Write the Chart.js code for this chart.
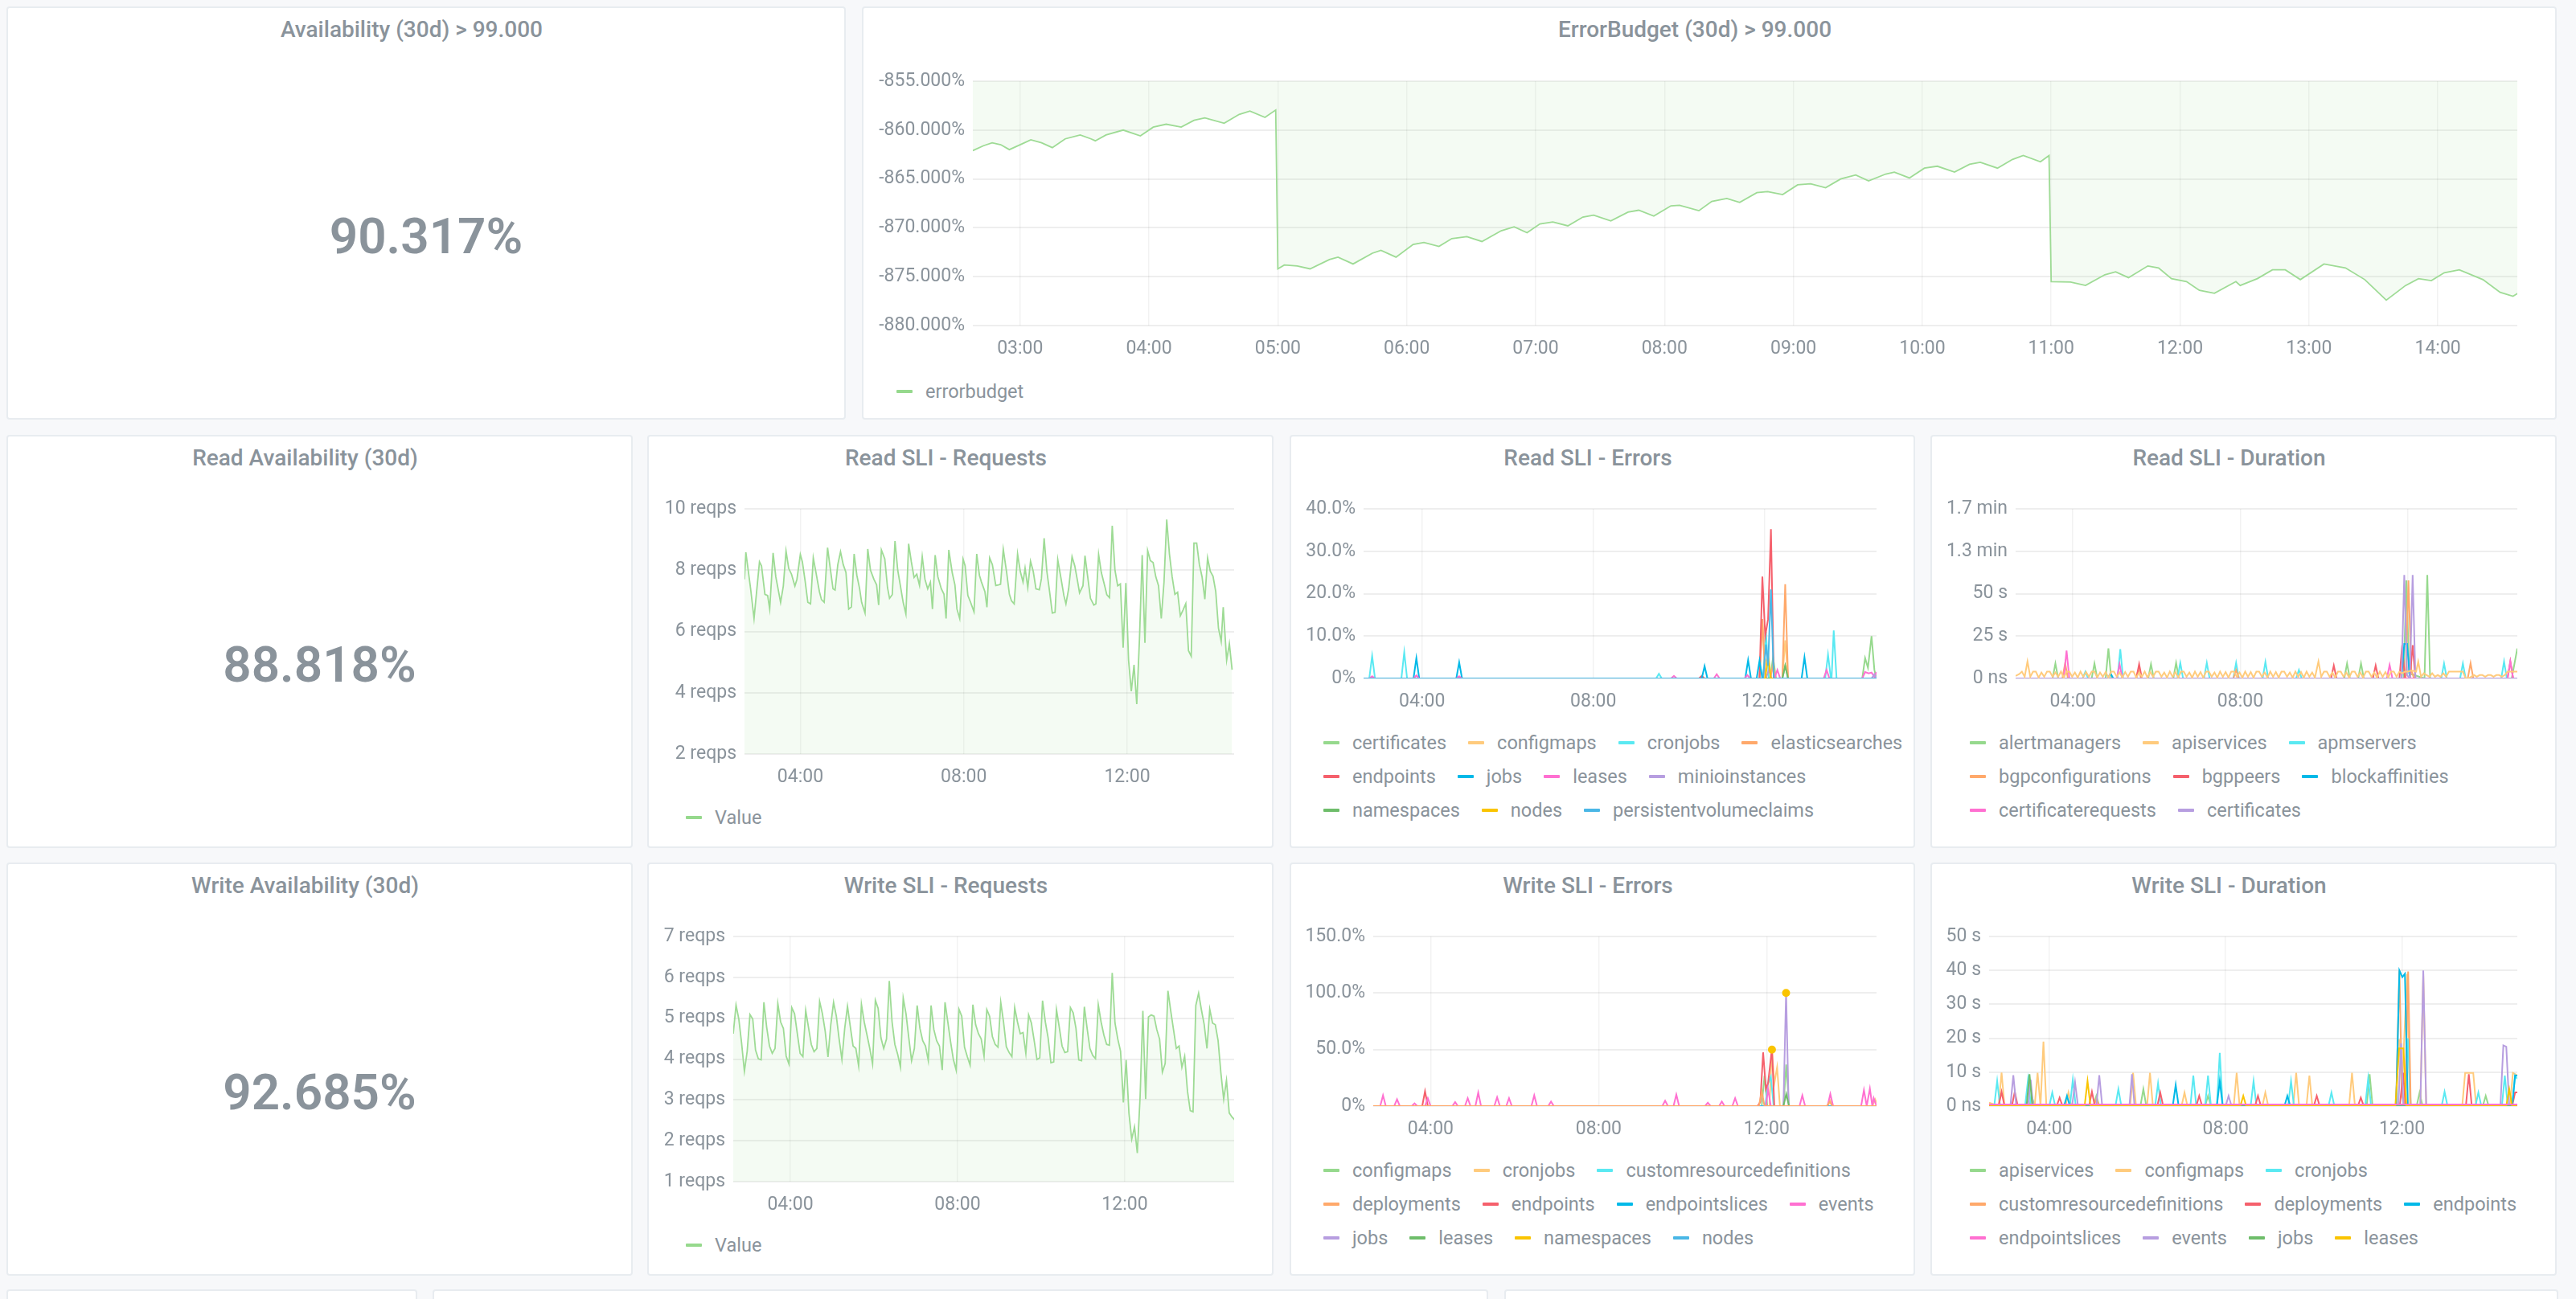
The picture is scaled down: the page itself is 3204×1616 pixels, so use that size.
<!DOCTYPE html>
<html>
<head>
<meta charset="utf-8">
<script src="https://cdn.jsdelivr.net/npm/chart.js@4.4.1/dist/chart.umd.min.js"></script>
<style>
  html, body { margin: 0; padding: 0; }
  body { width: 3204px; height: 1616px; background: #f7f8fa; position: relative; overflow: hidden; font-family: Roboto, "Noto Sans", sans-serif; }
  .panel { position: absolute; background: #fff; border: 2px solid #e8ecf0; border-radius: 4px; box-sizing: border-box; }
  .title { position: absolute; left: 0; right: 36px; top: 10px; height: 34px; line-height: 34px; text-align: center; font-size: 28px; font-weight: 500; color: #8a939b; white-space: nowrap; }
  .stat { position: absolute; left: 0; right: 0; top: 253px; text-align: center; font-size: 62px; line-height: 62px; font-weight: 600; color: #8a939b; }
  canvas { position: absolute; }
  .legend { position: absolute; display: flex; flex-wrap: wrap; column-gap: 27px; font-size: 23.5px; line-height: 42px; color: #8a939b; }
  .legend .item { display: flex; align-items: center; white-space: nowrap; }
  .legend .mark { width: 20px; height: 4px; margin-right: 16px; border-radius: 1px; }
</style>
</head>
<body>
<script>
// ---- data (times are minutes after midnight) ----
const palette = ['#96d98d', '#ffcb7d', '#5ae9f2', '#ffa96b', '#f5606c', '#00b9e8', '#ff70d1', '#b79ee0', '#6ebd6a', '#fac400', '#4ab7e6'];

const statValues = ['90.317%', '88.818%', '92.685%'];

const budgetTickLabels = ['03:00', '04:00', '05:00', '06:00', '07:00', '08:00', '09:00', '10:00', '11:00', '12:00', '13:00', '14:00'];
const smallTickLabels = ['04:00', '08:00', '12:00'];

const budgetPoints = [
  [158,-862.1],[163,-861.6],[167,-861.3],[171,-861.5],[175,-862.0],[181,-861.4],[185,-861.0],[190,-861.3],[195,-861.8],
  [201,-860.9],[208,-860.5],[213,-860.9],[215,-861.1],[220,-860.5],[228,-860.0],[236,-860.6],[242,-859.7],[248,-859.4],
  [255,-859.7],[261,-859.0],[266,-858.75],[275,-859.3],[282,-858.4],[287,-858.05],[294,-858.7],[299,-857.95],
  [300,-874.2],[303,-873.8],[309,-873.9],[315,-874.2],[324,-873.25],[328,-873.0],[335,-873.7],[344,-872.6],[348,-872.3],
  [355,-873.0],[363,-871.7],[368,-871.5],[375,-871.9],[381,-871.1],[388,-870.9],[395,-871.4],[404,-870.3],[410,-869.9],
  [416,-870.5],[422,-869.6],[428,-869.4],[435,-869.8],[442,-868.9],[447,-868.7],[455,-869.3],[463,-868.4],[468,-868.2],
  [475,-868.8],[483,-867.75],[487,-867.7],[496,-868.25],[502,-867.3],[509,-867.0],[515,-867.4],[523,-866.4],[528,-866.3],
  [535,-866.6],[542,-865.6],[548,-865.5],[555,-865.9],[562,-865.0],[569,-864.6],[575,-865.2],[583,-864.5],[587,-864.3],
  [594,-864.9],[601,-863.9],[607,-863.7],[615,-864.3],[622,-863.5],[627,-863.3],[635,-863.9],[642,-863.0],[647,-862.6],
  [655,-863.25],[659,-862.6],[660,-875.5],[669,-875.55],[676,-875.9],[685,-874.8],[690,-874.5],[696,-875.1],[705,-873.9],
  [710,-874.1],[716,-875.2],[723,-875.5],[729,-876.4],[736,-876.7],[746,-875.5],[748,-875.9],[756,-875.2],[763,-874.3],
  [769,-874.3],[776,-875.3],[787,-873.7],[797,-874.1],[806,-875.3],[816,-877.4],[825,-875.9],[831,-875.2],[837,-875.4],
  [843,-874.6],[850,-874.3],[861,-875.3],[869,-876.6],[875,-877.0],[878,-876.6]
];

const readReqTimes = [158,160,167,172,180,183,188,192,195,200,204,211,215,219,223,227,232,235,240,243,247,251,255,259,263,268,271,275,280,284,288,291,295,299,303,307,311,315,319,323,327,330,335,339,343,348,352,355,359,364,368,371,375,379,383,387,391,395,399,403,407,411,415,419,423,427,431,434,438,442,447,451,454,458,463,467,470,474,479,482,486,490,495,499,503,506,511,514,518,522,527,531,534,538,543,547,550,554,559,563,567,570,574,578,582,586,591,594,598,602,606,610,614,618,623,627,630,634,639,643,647,650,655,658,662,666,671,674,678,682,687,690,694,698,702,706,710,714,718,722,726,730,734,738,742,746,750,754,758,762,766,770,774,778,782,786,790,794,798,802,806,810,814,818,822,826,830,834,838,842,846,850,854,858,861,866,870,874];
const readReqValues = [7.70,8.58,7.39,6.42,8.27,8.14,7.21,7.17,6.73,8.56,7.78,6.95,7.48,8.62,8.05,7.87,7.48,7.70,8.51,8.27,7.65,6.95,6.90,8.40,7.92,7.30,7.04,6.95,8.73,8.05,7.39,7.35,8.18,8.60,8.18,7.92,6.73,6.80,8.53,7.83,7.40,6.95,6.60,8.69,8.00,7.70,7.52,6.86,8.66,8.37,7.43,7.08,7.20,8.95,8.00,7.48,6.95,6.57,8.86,8.27,7.76,7.87,7.50,8.44,7.70,7.39,7.61,6.73,8.49,7.78,7.39,7.21,6.42,8.66,7.92,7.52,6.73,6.42,8.36,8.14,7.17,6.95,6.64,8.53,7.83,7.61,7.30,6.79,8.40,8.18,7.50,7.52,7.54,8.68,7.92,7.21,7.00,6.90,8.53,7.96,7.61,8.07,7.43,8.29,7.96,7.39,7.36,7.72,9.04,7.96,7.30,6.60,6.62,8.34,7.70,7.17,6.90,7.39,8.44,8.14,7.65,7.26,7.49,8.47,7.78,7.08,6.86,6.90,8.51,7.92,7.48,7.20,7.10,9.45,8.00,7.49,7.55,5.47,7.58,5.06,4.05,4.91,3.63,5.76,8.49,5.63,8.64,8.31,8.25,7.78,7.49,6.42,7.60,9.65,8.53,7.78,7.21,7.28,6.51,6.70,6.91,5.37,5.19,8.88,8.88,8.18,7.77,7.05,8.40,7.96,7.80,7.30,6.11,5.67,6.79,5.06,5.60,4.75];

// write requests: one sample every 4 minutes from 02:38
const writeReqStart = 158;
const writeReqStep = 4;
const writeReqValues = [4.62,5.32,4.98,4.39,3.70,4.19,5.09,4.98,4.22,4.01,3.98,5.39,4.78,4.32,4.14,4.26,5.36,4.91,4.75,4.07,3.88,5.26,5.11,4.62,4.14,4.06,5.19,4.78,4.36,4.18,4.26,5.41,5.11,4.68,4.05,4.84,5.39,5.05,4.49,3.99,4.75,5.29,4.80,4.32,4.26,3.83,5.34,4.91,4.59,4.26,3.88,5.44,5.24,4.52,4.26,4.49,5.91,4.91,4.36,4.12,3.80,5.49,5.11,4.52,3.96,4.26,5.31,4.75,4.45,4.32,3.96,5.31,4.72,4.45,4.32,3.73,5.39,4.91,4.42,3.99,3.73,5.22,5.05,4.29,4.06,3.85,5.33,4.84,4.62,4.49,4.07,5.21,5.05,4.55,4.36,4.29,5.39,4.91,4.30,4.16,4.06,5.26,4.91,4.62,4.65,4.14,5.08,4.88,4.45,3.99,4.03,5.43,4.91,4.52,3.91,3.93,5.21,4.78,4.32,4.16,4.18,5.26,5.13,4.75,3.98,3.96,5.28,4.75,4.26,4.09,4.01,5.33,4.91,4.59,4.36,4.34,6.11,4.88,4.49,4.19,2.94,3.98,2.68,2.04,2.34,1.70,3.07,5.18,3.02,5.03,5.08,5.05,4.72,4.49,3.68,3.89,5.67,5.18,4.72,4.26,4.32,3.80,4.07,3.22,2.74,2.71,5.31,5.61,5.21,4.85,4.26,5.22,4.88,4.84,4.45,3.66,3.02,3.48,2.68,2.58,2.51];

const readErrorNames = ['certificates', 'configmaps', 'cronjobs', 'elasticsearches', 'endpoints', 'jobs', 'leases', 'minioinstances', 'namespaces', 'nodes', 'persistentvolumeclaims'];
const readErrorPoints = [
  [[158,0],[728,0],[732,5],[736,0],[745,0],[749,3],[753,0],[857,0],[861,4.8],[865,2.5],[870,10],[874,2],[877,0]],
  [[158,0],[713,0],[717,13],[721,3],[725,6],[729,0],[745,0],[749,9],[753,0],[877,0]],
  [[158,0],[166,0],[170,5.3],[174,0],[211,0],[215,6.2],[219,0],[568,0],[572,1.1],[576,0],[718,0],[722,11],[726,0],[805,0],[809,5.6],[813,0],[814,0],[817,11.3],[821,0],[877,0]],
  [[158,0],[713,0],[717,14],[721,0],[728,0],[732,3],[736,0],[745,0],[749,22.2],[753,0],[877,0]],
  [[158,0],[628,0],[632,0.6],[636,0],[713,0],[717,24],[721,10],[725,14],[729,35.2],[733,0],[877,0]],
  [[158,0],[228,0],[232,4.8],[236,0],[288,0],[292,3.8],[296,0],[632,0],[636,2.9],[640,0],[693,0],[697,4.3],[701,0],[709,0],[713,4.2],[717,0],[772,0],[776,5],[780,0],[877,0]],
  [[158,0],[166,0],[170,0.5],[174,0],[228,0],[232,0.7],[236,0],[288,0],[292,0.5],[296,0],[589,0],[593,0.6],[597,0],[649,0],[653,1.0],[657,0],[692,0],[696,0.8],[700,0],[734,0],[738,2],[742,0],[803,0],[807,2],[811,0],[857,0],[861,1.5],[866,1.2],[870,1.4],[874,0.4],[877,1.5]],
  [[158,0],[722,0],[726,2],[730,0],[870,0],[874,1],[877,0]],
  [[158,0],[745,0],[749,3],[753,0],[877,0]],
  [[158,0],[721,0],[725,5],[729,0],[877,0]],
  [[158,0],[718,0],[722,8],[725,3],[729,21],[733,0],[877,0]]
];

const readDurationNames = ['alertmanagers', 'apiservices', 'apmservers', 'bgpconfigurations', 'bgppeers', 'blockaffinities', 'certificaterequests', 'certificates'];
const readDurationPoints = [
  [[158,0],[211,0],[215,8.8],[219,0],[267,0],[271,8.8],[275,0],[287,0],[291,17.7],[295,0],[348,0],[352,8.4],[356,0],[384,0],[388,9.2],[392,0],[629,0],[633,8.8],[637,0],[649,0],[653,8.8],[657,0],[714,0],[718,57.8],[722,3],[744,0],[748,61],[752,0],[869,0],[877,17.7]],
  [[158,1.5],[163,2.5],[167,4],[171,1],[175,10],[179,1],[183,4],[187,4],[191,0.5],[195,3.5],[199,1],[203,4],[207,4],[211,1],[215,3.5],[219,1],[223,4],[227,0.5],[231,4],[235,4],[239,1],[243,3.5],[247,0.5],[251,4],[255,1],[259,3.8],[263,1],[267,4],[271,4],[275,0.5],[279,3.5],[283,1],[287,3.8],[291,0.5],[295,4],[299,4],[303,1],[307,3.5],[311,0.5],[315,3.8],[319,1],[323,4],[327,4],[331,0.5],[335,3.5],[339,1],[343,4],[347,0.5],[351,3.8],[355,1],[359,4],[363,4],[367,1],[371,3.5],[375,0.5],[379,4],[383,1],[387,3.8],[391,0.5],[395,4],[399,4],[403,1],[407,3.5],[411,0.5],[415,4],[419,1],[423,3.8],[427,0.5],[431,4],[435,4],[439,1],[443,3.5],[447,0.5],[451,4],[455,1],[459,3.8],[463,0.5],[467,4],[471,4],[475,1],[479,3.5],[483,0.5],[487,4],[491,1],[495,3.8],[499,0.5],[503,4],[507,4],[511,1],[515,3.5],[519,0.5],[523,4],[527,1],[531,3.8],[535,0.5],[539,4],[543,4],[547,1],[551,3.5],[555,0.5],[559,4],[563,1],[567,3.8],[571,0.5],[575,4],[579,1],[583,3.5],[587,0.5],[592,10],[596,1],[600,4],[604,4],[608,1],[612,3.5],[616,0.5],[620,4],[624,4],[628,1],[632,3.5],[636,0.5],[640,4],[644,4],[648,1],[652,3.5],[656,0.5],[660,4],[664,4],[668,1],[672,3.5],[676,0.5],[680,4],[684,1],[688,3.8],[692,0.5],[696,4],[700,4],[704,1],[708,4],[712,3],[716,4],[720,4],[724,4.5],[728,4.5],[732,4],[735,10],[739,1],[743,3],[747,2],[751,1],[755,3],[759,1],[763,2],[767,1],[771,3],[775,1],[779,4],[783,4],[787,4],[791,4],[795,4],[799,4],[803,0],[807,0],[811,1],[815,2],[819,1],[823,2],[827,2],[831,1],[835,2],[839,2],[843,1],[847,2],[851,2],[855,1],[859,2],[863,4],[867,4],[871,4],[877,4]],
  [[158,0],[254,0],[258,4],[262,0],[304,0],[308,17.2],[312,0],[390,0],[394,9.2],[398,0],[428,0],[432,9.2],[436,0],[470,0],[474,9.2],[478,0],[512,0],[516,9.7],[520,0],[560,0],[564,5],[568,0],[768,0],[772,8.8],[776,0],[795,0],[799,8.8],[803,0],[854,0],[858,10],[862,0],[877,0]],
  [[158,0],[225,0],[229,9],[233,0],[330,0],[334,5],[338,0],[470,0],[474,5],[478,0],[717,0],[721,57.8],[725,5],[729,0],[806,0],[810,9],[814,0],[877,0]],
  [[158,0],[331,0],[335,8.4],[339,0],[610,0],[614,7.6],[618,0],[670,0],[674,7.6],[678,0],[708,0],[712,19.6],[716,0],[723,0],[727,19.6],[731,0],[863,0],[867,10],[871,0],[877,0]],
  [[158,0],[290,0],[294,3],[298,0],[711,0],[715,20.4],[719,20.4],[723,0],[877,0]],
  [[158,0],[227,0],[231,16.4],[235,0],[303,0],[307,8.4],[311,0],[690,0],[694,8],[698,0],[863,0],[867,10],[871,0],[877,0]],
  [[158,0],[711,0],[715,61],[719,2],[723,0],[727,61],[731,0],[877,0]]
];

const writeErrorNames = ['configmaps', 'cronjobs', 'customresourcedefinitions', 'deployments', 'endpoints', 'endpointslices', 'events', 'jobs', 'leases', 'namespaces', 'nodes'];
const writeErrorPoints = [
  [[158,0],[713,0],[717,27],[721,0],[744,0],[748,36.8],[752,0],[877,0]],
  [[158,0],[724,0],[727.6,50],[731,20],[735,34.4],[739,0],[807,0],[811,5],[815,0],[871,0],[875,6],[877,3]],
  [[158,0],[718,0],[722,20],[726,26],[730,0],[877,0]],
  [[158,0],[709,0],[713,13],[717,0],[806,0],[810,4],[814,0],[877,0]],
  [[158,0],[228,0],[232,13],[236,0],[707,0],[711,3.6],[715,47.5],[719,15],[722,20],[727.6,51],[731,0],[877,0]],
  [[158,0],[877,0]],
  [[158,0],[168,0],[172,9.5],[176,0],[188,0],[192,6],[196,0],[213,0],[217,2.4],[221,0],[232,0],[236,7],[240,0],[271,0],[275,3.5],[279,0],[289,0],[293,7],[297,0],[304,0],[308,11.9],[312,0],[331,0],[335,7.8],[339,0],[348,0],[352,7],[356,0],[384,0],[388,9.5],[392,0],[408,0],[412,4],[416,0],[571,0],[575,4.7],[579,0],[587,0],[591,10.2],[595,0],[632,0],[636,3],[640,0],[652,0],[656,4],[660,0],[671,0],[675,7],[679,0],[719,0],[722,15],[726,0],[767,0],[771,9.5],[775,0],[807,0],[811,10.7],[815,0],[855,0],[859,14.2],[863,0],[867.5,15.4],[871,0],[873,7],[877,0]],
  [[158,0],[744,0],[747.8,100.9],[751.5,0],[877,0]],
  [[158,0],[744,0],[748,10.7],[752,0],[877,0]],
  [[727.6,50],[747.8,100]],
  [[158,0],[877,0]]
];

const writeDurationNames = ['apiservices', 'configmaps', 'cronjobs', 'customresourcedefinitions', 'deployments', 'endpoints', 'endpointslices', 'events', 'jobs', 'leases'];
const writeDurationPoints = [
  [[158,0],[213,0],[216,3],[220,0],[300,0],[304,3],[308,0],[364,0],[368,5],[372,0],[452,0],[456,3],[460,0],[672,0],[676,9.4],[680,0],[740,0],[744,4],[748,0],[830,0],[834,3],[838,0],[877,0]],
  [[158,1],[171,0],[175,9.9],[179,0],[220,0],[224,9.8],[228,0],[232,19],[236,0],[262,0],[266,4],[270,0],[350,0],[354,9.8],[358,0],[373,0],[377,9.8],[381,0],[420,0],[424,4],[428,0],[491,0],[495,9.8],[499,0],[530,0],[534,4],[538,0],[572,0],[576,9.8],[580,0],[590,0],[594,9],[598,0],[648,0],[652,9.8],[656,0],[712,0],[716,19.7],[720,5],[727,39],[731,0],[745,0],[749,39],[753,0],[802,0],[806,9.8],[817,9.8],[821,0],[867,0],[871,9.8],[877,9]],
  [[158,0],[165,0],[169,7.4],[173,0],[207,0],[211,7.8],[215,0],[240,0],[244,4],[248,0],[268,0],[272,7.8],[276,0],[330,0],[334,5],[338,0],[384,0],[388,6.7],[392,0],[432,0],[436,9],[440,0],[452,0],[456,9],[460,0],[468,0],[472,15.7],[476,0],[514,0],[518,7.4],[522,0],[565,0],[569,7.4],[573,0],[620,0],[624,4],[628,0],[670,0],[674,8.2],[678,0],[724,0],[728,20],[732,0],[774,0],[778,4.2],[782,0],[820,0],[824,4],[828,0],[856,0],[860,9],[864,0],[870,0],[874,9],[877,8]],
  [[158,0],[300,0],[304,2],[308,0],[712,0],[716.5,40],[720,3],[724,0],[728.4,39.7],[732,0],[877,0]],
  [[158,0],[171,0],[175,4.2],[179,0],[189,0],[193,4.2],[197,0],[250,0],[254,2.5],[258,0],[294,0],[298,4.2],[302,0],[387,0],[391,4],[395,0],[440,0],[444,3],[448,0],[520,0],[524,3],[528,0],[600,0],[604,3],[608,0],[660,0],[664,2.5],[668,0],[717,0],[721.6,9.8],[725,0],[807,0],[811,9.4],[815,0],[870,0],[874,4],[877,4]],
  [[158,0],[260,0],[264,3],[268,0],[408,0],[412,6.2],[416,0],[468,0],[472,7.4],[476,0],[560,0],[564,3],[568,0],[712,0],[716.5,40],[720.5,38],[724,39],[728,0],[870,0],[874,9],[877,9]],
  [[158,0.5],[877,0.5]],
  [[158,0],[187,0],[191,9.1],[195,0],[211,0],[214.6,7.8],[218,0],[271,0],[275,7],[279,0],[304,0],[308,9.1],[312,0],[349,0],[352.5,9.4],[356,0],[480,0],[484,3],[488,0],[715,0],[718.8,18.5],[722,0],[745,0],[749,40],[753,0],[854,0],[858,17.9],[862,17.5],[866,0],[877,0]],
  [[158,0],[209,0],[213,9.4],[217,0],[877,0]],
  [[158,0],[288,0],[292,7.4],[296,0],[500,0],[504,3],[508,0],[711,0],[716,17],[722,17],[726,0],[862,0],[866,5],[870,0],[877,0]]
];

const budgetY = { ticks: [-880, -875, -870, -865, -860, -855], labels: ['-880.000%', '-875.000%', '-870.000%', '-865.000%', '-860.000%', '-855.000%'] };
const readReqY = { ticks: [2, 4, 6, 8, 10], labels: ['2 reqps', '4 reqps', '6 reqps', '8 reqps', '10 reqps'] };
const writeReqY = { ticks: [1, 2, 3, 4, 5, 6, 7], labels: ['1 reqps', '2 reqps', '3 reqps', '4 reqps', '5 reqps', '6 reqps', '7 reqps'] };
const readErrY = { ticks: [0, 10, 20, 30, 40], labels: ['0%', '10.0%', '20.0%', '30.0%', '40.0%'] };
const writeErrY = { ticks: [0, 50, 100, 150], labels: ['0%', '50.0%', '100.0%', '150.0%'] };
const readDurY = { ticks: [0, 25, 50, 75, 100], labels: ['0 ns', '25 s', '50 s', '1.3 min', '1.7 min'] };
const writeDurY = { ticks: [0, 10, 20, 30, 40, 50], labels: ['0 ns', '10 s', '20 s', '30 s', '40 s', '50 s'] };

// ---- helpers ----
const textGrey = '#8a939b';
Chart.defaults.font.family = 'Roboto';

function toMin(s) { const p = s.split(':'); return +p[0] * 60 + +p[1]; }
function hhmm(m) { const h = Math.floor(m / 60), mm = Math.round(m % 60); return String(h).padStart(2, '0') + ':' + String(mm).padStart(2, '0'); }
function pts(list) { return list.map(p => ({ x: p[0], y: p[1] })); }

function panel(x, y, w, h, title, stat) {
  const d = document.createElement('div');
  d.className = 'panel';
  d.style.cssText = `left:${x}px;top:${y}px;width:${w}px;height:${h}px`;
  if (title) {
    const t = document.createElement('div');
    t.className = 'title'; t.textContent = title; d.appendChild(t);
  }
  if (stat) {
    const s = document.createElement('div');
    s.className = 'stat'; s.textContent = stat; d.appendChild(s);
  }
  document.body.appendChild(d);
}

function legend(x, yCenter, w, names, colors) {
  const l = document.createElement('div');
  l.className = 'legend';
  l.style.cssText = `left:${x}px;top:${yCenter - 21}px;width:${w}px`;
  names.forEach((n, i) => {
    const it = document.createElement('div'); it.className = 'item';
    const m = document.createElement('span'); m.className = 'mark'; m.style.background = colors[i];
    const t = document.createElement('span'); t.textContent = n;
    it.appendChild(m); it.appendChild(t); l.appendChild(it);
  });
  document.body.appendChild(l);
}

const PAD_TOP = 24;
function makeChart(r, datasets, yCfg, xTicks) {
  const left = r.panel + 4, top = r.t - PAD_TOP;
  const w = r.r + 10 - left, h = r.b + 50 - top;
  const cv = document.createElement('canvas');
  cv.width = w; cv.height = h;
  cv.style.cssText = `left:${left}px;top:${top}px;width:${w}px;height:${h}px`;
  document.body.appendChild(cv);
  const yw = r.l - left;
  const font = { size: 23, family: 'Roboto' };
  return new Chart(cv, {
    type: 'line',
    data: { datasets },
    options: {
      responsive: false, animation: false, devicePixelRatio: 1,
      layout: { padding: { top: PAD_TOP, right: 10, left: 0, bottom: 0 } },
      plugins: { legend: { display: false }, tooltip: { enabled: false } },
      elements: { point: { radius: 0 }, line: { borderWidth: 2, tension: 0 } },
      scales: {
        x: {
          type: 'linear', min: 158, max: 877,
          afterFit: s => { s.height = 50; },
          afterBuildTicks: s => { s.ticks = xTicks.map(v => ({ value: toMin(v) })); },
          grid: { color: 'rgba(0,0,0,0.05)', lineWidth: 1.5, drawTicks: false },
          border: { display: false },
          ticks: { padding: 15, color: textGrey, font, maxRotation: 0, autoSkip: false, callback: v => hhmm(v) }
        },
        y: {
          type: 'linear', min: yCfg.ticks[0], max: yCfg.ticks[yCfg.ticks.length - 1],
          afterFit: s => { s.width = yw; },
          afterBuildTicks: s => { s.ticks = yCfg.ticks.map(v => ({ value: v })); },
          grid: { color: 'rgba(0,0,0,0.065)', lineWidth: 2, drawTicks: false },
          border: { display: false },
          ticks: { padding: 10, color: textGrey, font, autoSkip: false, callback: (v, i) => yCfg.labels[i] }
        }
      }
    }
  });
}

function singleSet(data, label) {
  return [{ label, data, borderColor: '#9edb95', backgroundColor: 'rgba(150,217,141,0.1)', fill: 'origin', borderWidth: 1.8 }];
}
// onTop: series names drawn above the others; dots: series drawn as points only
function multiSets(names, points, dots, onTop) {
  return names.map((n, i) => {
    const ds = { label: n, data: pts(points[i]), borderColor: palette[i], backgroundColor: palette[i], fill: false, borderWidth: 2, order: -i };
    if (dots && dots.includes(n)) { ds.showLine = false; ds.pointRadius = 4; }
    if (onTop && onTop.includes(n)) { ds.order = -100; }
    return ds;
  });
}

// ---- panels ----
panel(8, 8, 1044, 514, 'Availability (30d) > 99.000', statValues[0]);
panel(1072, 8, 2108, 514, 'ErrorBudget (30d) > 99.000');
panel(8, 541, 779, 514, 'Read Availability (30d)', statValues[1]);
panel(805, 541, 779, 514, 'Read SLI - Requests');
panel(1604, 541, 778, 514, 'Read SLI - Errors');
panel(2401, 541, 779, 514, 'Read SLI - Duration');
panel(8, 1073, 779, 514, 'Write Availability (30d)', statValues[2]);
panel(805, 1073, 779, 514, 'Write SLI - Requests');
panel(1604, 1073, 778, 514, 'Write SLI - Errors');
panel(2401, 1073, 779, 514, 'Write SLI - Duration');
panel(8, 1604, 511, 60);
panel(538, 1604, 1313, 60);
panel(1871, 1604, 1311, 60);

// ---- charts ----
makeChart({ panel: 1072, l: 1210, t: 101, r: 3131, b: 405 }, singleSet(pts(budgetPoints), 'errorbudget'), budgetY, budgetTickLabels);
legend(1115, 487, 1900, ['errorbudget'], [palette[0]]);

makeChart({ panel: 805, l: 926, t: 633, r: 1535, b: 938 }, singleSet(readReqTimes.map((t, i) => ({ x: t, y: readReqValues[i] })), 'Value'), readReqY, smallTickLabels);
legend(853, 1017, 700, ['Value'], [palette[0]]);

makeChart({ panel: 805, l: 912, t: 1165, r: 1535, b: 1470 }, singleSet(writeReqValues.map((v, i) => ({ x: writeReqStart + i * writeReqStep, y: v })), 'Value'), writeReqY, smallTickLabels);
legend(853, 1549, 700, ['Value'], [palette[0]]);

makeChart({ panel: 1604, l: 1696, t: 633, r: 2334, b: 844 }, multiSets(readErrorNames, readErrorPoints), readErrY, smallTickLabels);
legend(1646, 924, 730, readErrorNames, palette);

makeChart({ panel: 2401, l: 2507, t: 633, r: 3131, b: 844 }, multiSets(readDurationNames, readDurationPoints, null, ['apiservices']), readDurY, smallTickLabels);
legend(2450, 924, 725, readDurationNames, palette);

makeChart({ panel: 1604, l: 1708, t: 1165, r: 2334, b: 1376 }, multiSets(writeErrorNames, writeErrorPoints, ['namespaces'], ['deployments']), writeErrY, smallTickLabels);
legend(1646, 1456, 730, writeErrorNames, palette);

makeChart({ panel: 2401, l: 2474, t: 1165, r: 3131, b: 1376 }, multiSets(writeDurationNames, writeDurationPoints, null, ['endpointslices']), writeDurY, smallTickLabels);
legend(2450, 1456, 725, writeDurationNames, palette);
</script>
</body>
</html>
